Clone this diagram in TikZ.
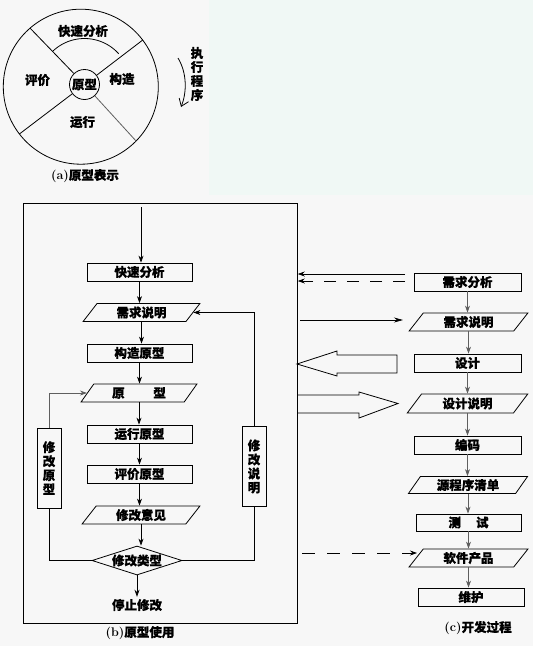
\documentclass[tikz,border=0pt]{standalone}
\usepackage{fontspec}
\newfontfamily\cjk{Noto Sans CJK SC}[BoldFeatures={FakeBold=0.6}]
\usetikzlibrary{shapes.geometric,arrows.meta,calc}
\definecolor{bggray}{RGB}{247,247,247}
\definecolor{mint}{RGB}{240,248,245}
\definecolor{lgray}{RGB}{95,95,95}
\begin{document}
\begin{tikzpicture}[x=1pt,y=-1pt,
  txt/.style={font=\cjk\bfseries\fontsize{12.5}{14}\selectfont, inner sep=0pt},
  box/.style={txt, draw, line width=0.8pt, minimum width=105pt, minimum height=18pt},
  para/.style={txt, draw, line width=0.8pt, trapezium, trapezium left angle=57, trapezium right angle=123, trapezium stretches=true, minimum width=117pt, minimum height=18pt},
  vbox/.style={txt, draw, line width=0.8pt, align=center, minimum width=24pt, minimum height=80pt},
  arr/.style={-{Stealth[length=7pt,width=5pt]}, line width=0.7pt},
  garr/.style={arr, draw=lgray},
  ln/.style={line width=0.8pt},
  hollow/.style={line width=0.8pt},
]
\fill[bggray] (0,0) rectangle (533,646);
\fill[mint] (209,0) rectangle (533,195);
\useasboundingbox (0,0) rectangle (533,646);

% (a)
\coordinate (oc) at (80.8,86.7);
\draw[ln] (oc) circle[radius=77.5];
\node[txt, draw, circle, minimum size=30pt, line width=0.8pt] (core) at (84.5,84.5) {原型};
\coordinate (pUL) at ($(oc)+(-130.9:77.5)$);
\coordinate (pUR) at ($(oc)+(-37:77.5)$);
\coordinate (pLL) at ($(oc)+(142.4:77.5)$);
\coordinate (pLR) at ($(oc)+(44.5:77.5)$);
\draw[ln] (core) -- (pUL);
\draw[ln] (core) -- (pUR);
\draw[ln] (core) -- (pLL);
\draw[ln, draw=lgray] (core) -- (pLR);
\draw[ln] (core.center) ++(-134:46) arc[start angle=-134, end angle=-42, radius=46];
\node[txt] (la1) at (83,31) {快速分析};
\node[txt] (la2) at (37.5,80) {评价};
\node[txt] (la3) at (122,79) {构造};
\node[txt] (la4) at (82.5,122) {运行};
\node[txt] (alab) at (85,176) {{\rmfamily(a)}原型表示};
\node[txt, align=center] (exec) at (197,74) {执\\行\\程\\序};
\coordinate (ex1) at (178,58);
\coordinate (ex2) at (181,107);
\draw[-{Straight Barb[length=7pt,width=10pt]}, line width=0.8pt] (ex1) .. controls (187,73) and (187,92) .. (ex2);

% (b)
\node[draw, line width=0.8pt, minimum width=274pt, minimum height=420pt, anchor=north west, inner sep=0pt] (bframe) at (23,203) {};
\node[box] (qa) at (139.5,272) {快速分析};
\node[para] (req) at (141.5,312.5) {需求说明};
\node[box] (build) at (139.5,353) {构造原型};
\node[para, minimum width=116pt] (proto) at (139,393) {原\hspace{2.3em}型};
\node[box] (run) at (139.5,434) {运行原型};
\node[box] (eval) at (139.5,474) {评价原型};
\node[para, minimum width=118pt] (opin) at (141,515) {修改意见};
\node[txt, draw, diamond, aspect=3.1, line width=0.8pt, minimum width=90pt, minimum height=29pt] (dia) at (137,560.5) {修改类型};
\node[txt] (stop) at (137,605) {停止修改};
\node[txt] (blab) at (140,633) {{\rmfamily(b)}原型使用};
\node[vbox] (lbox) at (49,468) {修\\改\\原\\型};
\node[vbox] (rbox) at (254,466.5) {修\\改\\说\\明};

\coordinate (start) at (141,207);
\draw[arr] (start) -- (start |- qa.north);
\draw[arr] (qa.south) -- (qa.south |- req.north);
\draw[arr] (req.south) -- (req.south |- build.north);
\draw[arr] (build.south) -- (build.south |- proto.north);
\draw[arr] (proto.south) -- (proto.south |- run.north);
\draw[arr] (run.south) -- (run.south |- eval.north);
\draw[arr] (eval.south) -- (eval.south |- opin.north);
\draw[arr] (opin.south) -- (opin.south |- dia.north);
\draw[arr, shorten >=2pt] (dia.south) -- (dia.south |- stop.north);
\draw[ln] (dia.west) -| (lbox.south);
\draw[garr] (lbox.north) |- (proto.west);
\draw[ln] (dia.east) -| (rbox.south);
\draw[arr] (rbox.north) |- (req.east);

% (c)
\node[box, minimum width=107pt] (cqa) at (467.5,282) {需求分析};
\node[para, minimum width=119pt] (creq) at (468.5,322) {需求说明};
\node[box, minimum width=107pt] (cdes) at (467.5,363) {设计};
\node[para, minimum width=121pt, minimum height=19pt] (cdesd) at (467.5,403.5) {设计说明};
\node[box, minimum width=107pt] (ccode) at (467.5,445) {编码};
\node[para, minimum width=120pt, minimum height=17pt] (csrc) at (468,485) {源程序清单};
\node[box, minimum height=17pt] (ctest) at (468.5,522.5) {测\hspace{1.2em}试};
\node[para, minimum width=119pt] (cprod) at (468.5,558) {软件产品};
\node[box, minimum width=106pt] (cmaint) at (471,597) {维护};
\node[txt] (clab) at (478,628) {{\rmfamily(c)}开发过程};

\draw[garr] (cqa.south) -- (cqa.south |- creq.north);
\draw[garr] (creq.south) -- (creq.south |- cdes.north);
\draw[garr] (cdes.south) -- (cdes.south |- cdesd.north);
\draw[garr] (cdesd.south) -- (cdesd.south |- ccode.north);
\draw[garr] (ccode.south) -- (ccode.south |- csrc.north);
\draw[garr] (csrc.south) -- (csrc.south |- ctest.north);
\draw[garr] (ctest.south) -- (ctest.south |- cprod.north);
\draw[garr] (cprod.south) -- (cprod.south |- cmaint.north);

% between (b) and (c)
\coordinate (s1) at (405,274);
\draw[arr] (s1) -- (s1 -| bframe.east);
\coordinate (s2) at (405,281);
\draw[arr, dash pattern=on 12pt off 11pt] (s2) -- (s2 -| bframe.east);
\coordinate (s3) at (300,320);
\coordinate (e3) at (403,320);
\draw[arr, -{Stealth[length=9pt,width=5pt]}] (s3) -- (e3);
\draw[hollow] (397,355) -- (337,355) -- (337,351) -- (297,364) -- (337,376) -- (337,373) -- (397,373) -- cycle;
\draw[hollow] (297,395) -- (359,395) -- (359,392) -- (398,403.5) -- (359,418) -- (359,413) -- (297,413);
\coordinate (s6) at (302,553);
\coordinate (e6) at (417,553);
\draw[arr, dash pattern=on 13pt off 12pt] (s6) -- (e6);
\end{tikzpicture}
\end{document}
